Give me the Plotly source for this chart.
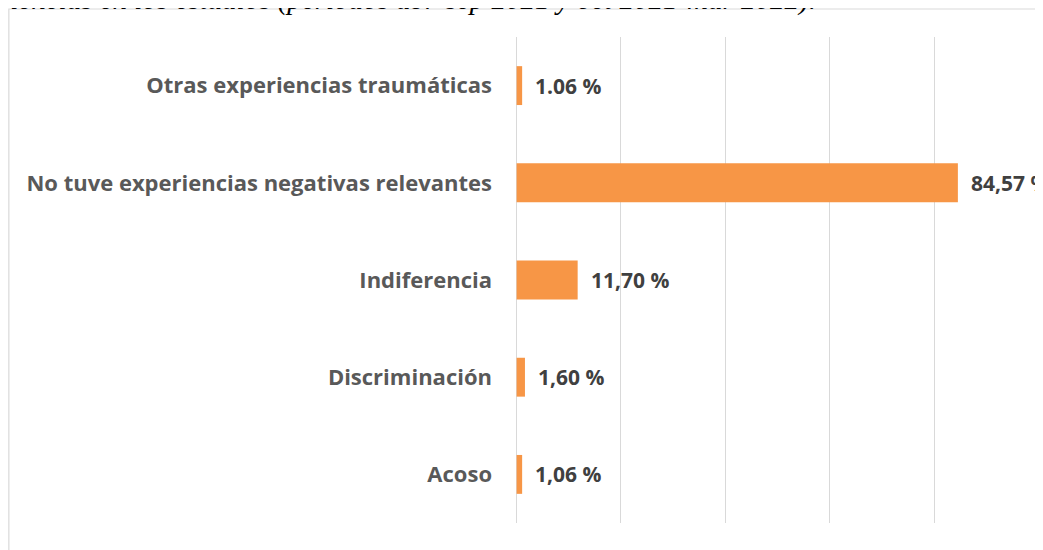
import plotly.graph_objects as go

categories = ["Acoso", "Discriminación", "Indiferencia",
              "No tuve experiencias negativas relevantes",
              "Otras experiencias traumáticas"]
values = [1.06, 1.60, 11.70, 84.57, 1.06]
value_labels = ["1,06 %", "1,60 %", "11,70 %", "84,57 %", "1.06 %"]
x_ticks = [0, 20, 40, 60, 80, 100]
x_range = [-0.5, 100.5]
title_text = "riencias en los estudios (periodos abr-sep 2021 y oct 2021-mar 2022)."

# page has an 8px body margin; figure coordinates = page - 8
W, H = 1035, 542
unit = 5.21                     # pixels per percentage point
L = 509 + x_range[0] * unit     # x=0 at fig px 509
R = W - (509 + x_range[1] * unit)
T, B = 29, 27
pw = W - L - R
ph = H - T - B

def px_x(p):
    return (p - L) / pw

def px_y(p):
    return (H - B - p) / ph

fig = go.Figure()
fig.add_trace(go.Bar(
    y=categories, x=values, orientation="h",
    marker=dict(color="#F79646", line=dict(width=0)),
    hoverinfo="skip",
))

for c, v, t in zip(categories, values, value_labels):
    fig.add_annotation(x=v, y=c, xref="x", yref="y", text=f"<b>{t}</b>",
                       showarrow=False, xanchor="left", yanchor="middle",
                       xshift=11,
                       font=dict(family="Open Sans", size=21, color="#404040"))

# outer chart border
fig.add_shape(type="rect", xref="paper", yref="paper",
              x0=px_x(2), x1=px_x(1060), y0=px_y(570), y1=px_y(1),
              line=dict(color="#d9d9d9", width=1.2), fillcolor="rgba(0,0,0,0)",
              layer="below")

# cut-off caption text above the chart
fig.add_annotation(xref="paper", yref="paper", x=px_x(-10), y=px_y(10),
                   xanchor="left", yanchor="bottom", showarrow=False,
                   text=f"<i>{title_text}</i>",
                   font=dict(family="Liberation Serif", size=29, color="#000000"))

fig.update_layout(
    width=W, height=H,
    margin=dict(l=L, r=R, t=T, b=B, autoexpand=False),
    paper_bgcolor="white", plot_bgcolor="white",
    bargap=0.6, showlegend=False,
    xaxis=dict(range=x_range, tickvals=x_ticks, showticklabels=False,
               showgrid=True, gridcolor="#d9d9d9", gridwidth=1.3,
               zeroline=False, showline=False, fixedrange=True),
    yaxis=dict(categoryorder="array", categoryarray=categories,
               tickfont=dict(family="Open Sans", size=22, color="#595959",
                             weight="bold"),
               ticklabelstandoff=21,
               showgrid=False, zeroline=False,
               showline=False, fixedrange=True),
)

fig.write_html("out.html")
